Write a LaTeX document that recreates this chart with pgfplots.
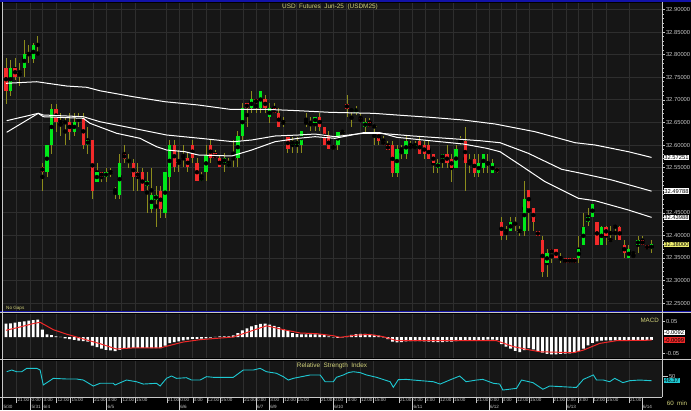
\documentclass[border=0pt]{standalone}
\usepackage{pgfplots}
\pgfplotsset{compat=1.18}
\usepackage{pgfplotstable}
\usepackage{fontspec}
\setmainfont{Liberation Sans}
\definecolor{bgc}{HTML}{161616}
\definecolor{gridc}{HTML}{2E2E2E}
\definecolor{upc}{HTML}{00E81A}
\definecolor{dnc}{HTML}{F22A2A}
\definecolor{wickc}{HTML}{8C8C1C}
\definecolor{txtc}{HTML}{D2D27A}
\definecolor{lblc}{HTML}{C8C8C8}
\definecolor{rsic}{HTML}{1EC8D2}
\definecolor{sigc}{HTML}{F02828}
\definecolor{topblue}{HTML}{1212A8}
\definecolor{lastc}{HTML}{F0F070}

\pgfplotstableread{
i o h l c
0 32.7710 32.7925 32.6907 32.7201
1 32.7201 32.7881 32.7091 32.7710
2 32.7710 32.7918 32.7438 32.7511
3 32.7608 32.7814 32.7305 32.7608
4 32.7710 32.8323 32.7511 32.8013
5 32.8013 32.8212 32.7814 32.8013
6 32.7909 32.8263 32.7814 32.8212
7 32.8024 32.8418 32.8010 32.8024
8 32.5513 32.5602 32.4989 32.5403
9 32.5396 32.6000 32.5299 32.6000
10 32.6000 32.6907 32.5801 32.6803
11 32.6803 32.6907 32.6294 32.6502
12 32.6509 32.6708 32.6199 32.6509
13 32.6502 32.6597 32.6000 32.6502
14 32.6509 32.6708 32.6111 32.6294
15 32.6294 32.6708 32.6199 32.6509
16 32.6597 32.6708 32.6405 32.6597
17 32.6604 32.6708 32.5912 32.6000
18 32.6000 32.6405 32.5801 32.6111
19 32.6111 32.6111 32.4805 32.4989
20 32.5188 32.5602 32.5188 32.5396
21 32.5396 32.5396 32.5188 32.5292
22 32.5292 32.5498 32.5188 32.5396
23 32.5396 32.5498 32.5292 32.5396
24 32.4998 32.5077 32.4805 32.4998
25 32.4894 32.5801 32.4805 32.5595
26 32.5801 32.6000 32.5602 32.5697
27 32.5595 32.5801 32.5498 32.5697
28 32.5595 32.5697 32.4989 32.5292
29 32.5396 32.5602 32.4989 32.5292
30 32.5396 32.5498 32.4989 32.4989
31 32.5093 32.5403 32.4496 32.5197
32 32.4591 32.5498 32.4496 32.4894
33 32.4783 32.5093 32.4192 32.4894
34 32.4989 32.5093 32.4392 32.4591
35 32.4496 32.5396 32.4392 32.5396
36 32.5299 32.6111 32.4989 32.6000
37 32.6000 32.6111 32.5396 32.5507
38 32.5608 32.5889 32.5396 32.5608
39 32.5706 32.6000 32.5520 32.5706
40 32.5706 32.5816 32.5409 32.5507
41 32.6000 32.6111 32.5595 32.5706
42 32.5595 32.5706 32.5204 32.5204
43 32.5204 32.5409 32.5204 32.5299
44 32.5409 32.6000 32.5204 32.5779
45 32.6000 32.6111 32.5608 32.5706
46 32.5816 32.5889 32.5706 32.5706
47 32.5706 32.5779 32.5507 32.5507
48 32.5608 32.5816 32.5409 32.5706
49 32.5507 32.5706 32.5507 32.5608
50 32.5706 32.6111 32.5507 32.5706
51 32.5706 32.6316 32.5507 32.6199
52 32.6199 32.6923 32.6111 32.6812
53 32.6923 32.6923 32.6405 32.6812
54 32.6812 32.7201 32.6715 32.7011
55 32.7011 32.7011 32.6715 32.6923
56 32.6812 32.7201 32.6715 32.7201
57 32.7011 32.7106 32.6715 32.6812
58 32.6613 32.6923 32.6493 32.6812
59 32.6812 32.6923 32.6715 32.6715
60 32.6715 32.6812 32.6405 32.6405
61 32.6493 32.6613 32.6405 32.6493
62 32.6184 32.6184 32.5816 32.5905
63 32.6000 32.6184 32.5816 32.6095
64 32.6000 32.6184 32.5816 32.6095
65 32.6000 32.6310 32.5816 32.6310
66 32.6493 32.6715 32.6405 32.6493
67 32.6493 32.6613 32.6310 32.6493
68 32.6493 32.6613 32.6310 32.6613
69 32.6613 32.6715 32.6310 32.6405
70 32.6405 32.6405 32.6000 32.6000
71 32.6199 32.6310 32.5905 32.5905
72 32.6000 32.6000 32.5889 32.5905
73 32.6000 32.6294 32.5889 32.6294
74 32.6294 32.6332 32.6229 32.6294
75 32.6907 32.7106 32.6626 32.6803
76 32.6803 32.6803 32.6405 32.6737
77 32.6715 32.6863 32.6664 32.6803
78 32.6604 32.6701 32.6502 32.6502
79 32.6398 32.6604 32.6294 32.6502
80 32.6502 32.6604 32.6398 32.6398
81 32.6410 32.6410 32.6000 32.6410
82 32.6294 32.6294 32.6000 32.6095
83 32.6095 32.6199 32.6000 32.6000
84 32.6000 32.6095 32.5889 32.5889
85 32.6000 32.6095 32.5285 32.5387
86 32.5387 32.6000 32.5285 32.5905
87 32.5905 32.6000 32.5690 32.5905
88 32.5801 32.6199 32.5690 32.6095
89 32.6000 32.6095 32.5905 32.5905
90 32.5905 32.6095 32.5905 32.6000
91 32.6095 32.6199 32.5801 32.5801
92 32.6000 32.6095 32.5690 32.5801
93 32.6000 32.6095 32.5690 32.5690
94 32.5801 32.5801 32.5387 32.5595
95 32.5498 32.5690 32.5387 32.5595
96 32.5690 32.5801 32.5498 32.5801
97 32.5801 32.6000 32.5498 32.5595
98 32.5690 32.5801 32.5188 32.5498
99 32.5498 32.6000 32.5498 32.5905
100 32.6038 32.6199 32.6000 32.6095
101 32.6095 32.6398 32.4989 32.5595
102 32.5595 32.5801 32.5387 32.5690
103 32.5690 32.5801 32.5285 32.5387
104 32.5387 32.5801 32.5285 32.5595
105 32.5498 32.5801 32.5387 32.5801
106 32.5595 32.5801 32.5387 32.5595
107 32.5387 32.5690 32.5387 32.5595
108 32.5498 32.5498 32.5387 32.5396
109 32.4303 32.4414 32.3898 32.3987
110 32.4097 32.4208 32.3898 32.4097
111 32.4097 32.4414 32.4097 32.4303
112 32.4303 32.4414 32.4097 32.4208
113 32.4097 32.4208 32.3987 32.4097
114 32.4097 32.5204 32.3987 32.4799
115 32.5004 32.5004 32.4097 32.4600
116 32.4600 32.4600 32.4097 32.4303
117 32.4097 32.4097 32.3987 32.3987
118 32.3898 32.3987 32.3086 32.3197
119 32.3383 32.3692 32.3086 32.3604
120 32.3692 32.3692 32.3383 32.3604
121 32.3692 32.3692 32.3493 32.3493
122 32.3493 32.3604 32.3383 32.3493
123 32.3493 32.3493 32.3383 32.3383
124 32.3493 32.3493 32.3383 32.3383
125 32.3493 32.3493 32.3383 32.3383
126 32.3493 32.3987 32.3383 32.3692
127 32.3788 32.4502 32.3788 32.4192
128 32.4303 32.4600 32.4208 32.4400
129 32.4400 32.4695 32.4400 32.4695
130 32.4303 32.4303 32.3788 32.3788
131 32.3788 32.4208 32.3788 32.4192
132 32.4192 32.4208 32.3788 32.3987
133 32.3898 32.4208 32.3898 32.3898
134 32.4192 32.4208 32.3898 32.4192
135 32.4192 32.4208 32.3898 32.3898
136 32.3788 32.3898 32.3493 32.3604
137 32.3493 32.3788 32.3493 32.3692
138 32.3604 32.3604 32.3493 32.3604
139 32.3788 32.3987 32.3604 32.3898
140 32.3898 32.3987 32.3788 32.3788
141 32.3788 32.3788 32.3692 32.3692
142 32.3692 32.3898 32.3604 32.3800
}\candles

\pgfplotstableread{
i m
0 0.0417
1 0.0427
2 0.0448
3 0.0469
4 0.0490
5 0.0510
6 0.0530
7 0.0540
8 0.0230
9 0.0080
10 0.0060
11 0.0020
12 0.0005
13 -0.0040
14 -0.0070
15 -0.0090
16 -0.0110
17 -0.0125
18 -0.0146
19 -0.0270
20 -0.0320
21 -0.0360
22 -0.0400
23 -0.0420
24 -0.0440
25 -0.0400
26 -0.0360
27 -0.0340
28 -0.0340
29 -0.0340
30 -0.0340
31 -0.0340
32 -0.0350
33 -0.0350
34 -0.0350
35 -0.0270
36 -0.0190
37 -0.0160
38 -0.0135
39 -0.0104
40 -0.0083
41 -0.0060
42 -0.0060
43 -0.0050
44 -0.0040
45 -0.0020
46 0.0005
47 0.0020
48 0.0020
49 0.0020
50 0.0050
51 0.0125
52 0.0210
53 0.0270
54 0.0330
55 0.0375
56 0.0410
57 0.0417
58 0.0385
59 0.0350
60 0.0310
61 0.0250
62 0.0190
63 0.0125
64 0.0090
65 0.0080
66 0.0080
67 0.0080
68 0.0080
69 0.0080
70 0.0060
71 0.0020
72 -0.0010
73 -0.0030
74 -0.0010
75 0.0030
76 0.0070
77 0.0090
78 0.0100
79 0.0100
80 0.0090
81 0.0070
82 0.0040
83 -0.0010
84 -0.0070
85 -0.0146
86 -0.0167
87 -0.0156
88 -0.0135
89 -0.0125
90 -0.0125
91 -0.0125
92 -0.0135
93 -0.0146
94 -0.0156
95 -0.0156
96 -0.0156
97 -0.0146
98 -0.0146
99 -0.0125
100 -0.0104
101 -0.0104
102 -0.0094
103 -0.0094
104 -0.0094
105 -0.0094
106 -0.0083
107 -0.0083
108 -0.0094
109 -0.0220
110 -0.0300
111 -0.0365
112 -0.0430
113 -0.0470
114 -0.0410
115 -0.0350
116 -0.0385
117 -0.0440
118 -0.0490
119 -0.0530
120 -0.0540
121 -0.0540
122 -0.0530
123 -0.0520
124 -0.0510
125 -0.0490
126 -0.0440
127 -0.0365
128 -0.0260
129 -0.0180
130 -0.0135
131 -0.0115
132 -0.0104
133 -0.0104
134 -0.0104
135 -0.0104
136 -0.0104
137 -0.0104
138 -0.0104
139 -0.0104
140 -0.0094
141 -0.0094
142 -0.0092
}\macd

\pgfplotstableread{
i s
0 0.021
3 0.031
6 0.042
7.5 0.046
10.4 0.023
13.3 0.009
17 -0.006
20.7 -0.021
24.3 -0.0375
28 -0.034
33.9 -0.034
35.3 -0.029
39 -0.0156
42.7 -0.0083
50 0.000
53.7 0.0177
57.3 0.035
61 0.023
64.7 0.0125
68.3 0.0104
72 0.004
73.5 -0.001
77.1 0.006
80 0.008
83 0.001
86 -0.0115
91.8 -0.0115
107.9 -0.0115
111.6 -0.030
114.5 -0.0385
117.4 -0.046
124.8 -0.049
127 -0.041
130.6 -0.020
134.3 -0.0115
142 -0.0099
}\signal

\pgfplotstableread{
i r
0.15 53.3
1.25 54.6
2.35 53.3
3.45 53.3
4.55 55.9
6.75 55.9
7.5 54.6
8.2 43.1
9.3 45.6
10.4 48.2
13.3 47.7
15.5 47.7
17 46.9
19.2 42.3
20.7 44.4
23.6 44.4
24 43.1
26.5 46.9
28.7 45.6
30.2 43.8
33.1 44.4
33.9 42.3
35.3 48.2
36.4 50.0
37.5 48.2
39.7 48.7
40.8 46.9
42.7 46.9
44.1 49.5
45.6 49.0
50 49.0
52.2 54.6
54.4 54.6
55.9 55.9
57.3 53.3
59.5 52.1
61 49.5
62.1 46.9
63.2 48.2
66.9 50.8
69.1 50.8
70.2 45.6
72 45.6
72.7 49.0
74.2 50.8
75.3 52.6
76.4 53.3
77.9 52.6
79.3 50.8
81.5 49.0
84.5 45.6
85.2 41.3
86.3 47.2
88.1 47.4
89.6 46.9
94 45.6
95.5 43.8
97.6 46.9
99.8 50.0
101.2 45.6
103.5 46.9
104.9 47.4
107.2 44.4
108.6 43.8
109.3 39.2
112.3 40.5
113.4 46.9
115.9 44.9
118.1 39.8
119.6 42.3
124.8 41.3
125.5 41.3
127 47.4
129.2 50.8
129.9 46.9
131.4 46.9
132.8 45.6
133.9 48.2
135.7 44.9
137.2 46.4
139.4 46.9
142 46.37
}\rsi

\pgfplotsset{
  panel/.style={
    scale only axis, width=660pt, xmin=-0.88, xmax=144.30, anchor=south west,
    axis background/.style={fill=bgc}, axis line style={draw=none},
    xtick={2.35,5.43,8.07,11.15,14.23,19.2,22.15,25.45,28.38,35.35,38.12,41.07,44.15,47.07,52.2,55.0,57.92,61.0,63.95,69.07,72.0,74.94,77.87,80.84,86.45,89.46,92.17,95.25,98.33,103.39,106.25,109.04,112.19,115.05,120.26,123.19,125.83,129.06,131.98,137.04},
    xmajorgrids, major grid style={draw=gridc, line width=0.7pt},
    xtick style={draw=none}, xticklabels={},
    clip mode=individual,
    scaled y ticks=false, scaled x ticks=false,
    ytick pos=right, yticklabel pos=right, tick align=outside,
    ytick style={draw=lblc, line width=0.5pt}, major tick length=3pt,
    minor tick length=1.5pt,
    yticklabel style={font=\fontsize{5.8}{6}\selectfont, text=lblc, inner sep=0.8pt},
    /pgf/number format/assume math mode=true,
  },
}

\begin{document}
\begin{tikzpicture}[x=1pt,y=1pt]
\fill[black] (0,0) rectangle (691,410);

% ---------------- price panel
\begin{axis}[panel, at={(2pt,99pt)}, height=308pt,
  ymin=32.2327, ymax=32.9142,
  ytick={32.25,32.30,32.35,32.40,32.45,32.50,32.55,32.60,32.65,32.70,32.75,32.80,32.85,32.90},
  yticklabels={32.25000,32.30000,32.35000,32.40000,32.45000,,32.55000,32.60000,32.65000,32.70000,32.75000,32.80000,32.85000,32.90000},
  minor y tick num=4,
  ymajorgrids,
]
% wicks
\addplot[forget plot, only marks, mark=none, error bars/.cd, y dir=both, y explicit, error mark=none,
  error bar style={line width=0.8pt, draw=wickc}]
  table[x=i, y expr={(\thisrow{h}+\thisrow{l})/2}, y error expr={(\thisrow{h}-\thisrow{l})/2}] {\candles};
% up bodies
\addplot[forget plot, only marks, mark=none, unbounded coords=discard, error bars/.cd, y dir=both, y explicit, error mark=none,
  error bar style={line width=3.3pt, draw=upc}]
  table[x expr={\thisrow{c}>\thisrow{o} ? \thisrow{i} : nan}, y expr={(\thisrow{o}+\thisrow{c})/2}, y error expr={abs(\thisrow{c}-\thisrow{o})/2}] {\candles};
% down bodies
\addplot[forget plot, only marks, mark=none, unbounded coords=discard, error bars/.cd, y dir=both, y explicit, error mark=none,
  error bar style={line width=3.3pt, draw=dnc}]
  table[x expr={\thisrow{c}<\thisrow{o} ? \thisrow{i} : nan}, y expr={(\thisrow{o}+\thisrow{c})/2}, y error expr={abs(\thisrow{c}-\thisrow{o})/2}] {\candles};
% doji
\addplot[forget plot, only marks, mark=none, unbounded coords=discard, error bars/.cd, x dir=both, x fixed=0.5, error mark=none,
  error bar style={line width=0.8pt, draw=wickc}]
  table[x expr={\thisrow{c}==\thisrow{o} ? \thisrow{i} : nan}, y=o] {\candles};
% moving averages
\addplot[white, line width=1pt] coordinates {(0,32.7365) (6.75,32.7400) (13.35,32.7305) (17.75,32.7277) (20.68,32.7200) (27.94,32.7069) (34.98,32.6958) (42.3,32.6885) (49.27,32.6790) (56.97,32.6790) (64.3,32.6759) (71.27,32.6723) (80.8,32.6701) (85.94,32.6664) (93.27,32.6613) (100.6,32.6553) (107.57,32.6465) (116.37,32.6294) (125.17,32.6051) (129.57,32.6000) (136.9,32.5852) (142,32.5725)};
\addplot[white, line width=1pt] coordinates {(0.15,32.6538) (7.1,32.6701) (8.2,32.6664) (17.0,32.6626) (20.68,32.6515) (28.0,32.6369) (35.35,32.6221) (42.68,32.6148) (50.0,32.6073) (54.05,32.6111) (59.17,32.6199) (64.3,32.6221) (67.97,32.6243) (72.37,32.6184) (78.6,32.6259) (82.27,32.6259) (89.6,32.6199) (96.94,32.6148) (104.27,32.6095) (108.67,32.6051) (114.9,32.5816) (122.24,32.5462) (125.89,32.5387) (133.24,32.5226) (142,32.4979)};
\addplot[white, line width=1pt] coordinates {(0.15,32.6281) (7.1,32.6701) (8.2,32.6626) (17.0,32.6591) (18.48,32.6480) (24.35,32.6259) (29.48,32.6148) (33.15,32.5962) (35.35,32.5889) (39.37,32.5852) (42.3,32.5779) (49.65,32.5757) (54.05,32.5889) (59.17,32.6073) (64.3,32.6148) (67.97,32.6184) (72.37,32.6148) (78.6,32.6272) (82.27,32.6272) (85.94,32.6170) (93.27,32.6095) (100.6,32.6022) (105.74,32.5927) (108.67,32.5852) (113.44,32.5535) (118.57,32.5188) (125.89,32.4821) (129.57,32.4768) (136.9,32.4562) (142,32.4399)};
\node[anchor=west, fill=white, text=black, inner sep=0.7pt, xshift=1.5pt, font=\fontsize{5.8}{6}\selectfont] at (axis cs:144.3,32.57251) {32.57251};
\node[anchor=west, fill=white, text=black, inner sep=0.7pt, xshift=1.5pt, font=\fontsize{5.8}{6}\selectfont] at (axis cs:144.3,32.49788) {32.49788};
\node[anchor=west, fill=white, text=black, inner sep=0.7pt, xshift=1.5pt, font=\fontsize{5.8}{6}\selectfont] at (axis cs:144.3,32.43988) {32.43988};
\node[anchor=west, fill=lastc, text=black, inner sep=0.7pt, xshift=1.5pt, font=\fontsize{5.8}{6}\selectfont] at (axis cs:144.3,32.38) {32.38000};
\end{axis}

% ---------------- MACD panel
\begin{axis}[panel, at={(2pt,52pt)}, height=44pt,
  ymin=-0.0656, ymax=0.0719,
  ytick={-0.05,0.05}, yticklabels={-0.05,0.05},
]
\addplot[ybar, bar width=2.8pt, bar shift=0pt, fill=white, draw=none] table[x=i, y=m] {\macd};
\addplot[sigc, line width=1pt] table[x=i, y=s] {\signal};
\node[anchor=west, fill=white, text=black, inner sep=0.7pt, xshift=1.5pt, font=\fontsize{5.8}{6}\selectfont] at (axis cs:144.3,0.0134) {-0.0092};
\node[anchor=west, fill=sigc, text=black, inner sep=0.7pt, xshift=1.5pt, font=\fontsize{5.8}{6}\selectfont] at (axis cs:144.3,-0.0100) {-0.0099};
\end{axis}

% ---------------- RSI panel
\begin{axis}[panel, at={(2pt,13pt)}, height=36pt,
  ymin=33.85, ymax=61.54,
  ytick={50}, yticklabels={50},
  xtick style={draw=lblc, line width=0.4pt}, xtick pos=bottom, major tick length=6pt,
  xticklabels={21:00,0:00,3:00,12:00,15:00,21:00,3:00,12:00,15:00,21:00,0:00,3:00,12:00,15:00,21:00,0:00,3:00,12:00,15:00,21:00,0:00,3:00,12:00,15:00,21:00,0:00,3:00,12:00,15:00,21:00,0:00,3:00,12:00,15:00,21:00,0:00,3:00,12:00,15:00,21:00},
  xticklabel style={font=\fontsize{4.6}{5}\selectfont, text=lblc, anchor=north west, inner sep=0pt, xshift=0.8pt, yshift=4.5pt},
  extra x ticks={-0.75,5.43,8.07,22.15,38.12,55.0,57.92,72.0,89.46,106.25,123.19,139.9},
  extra x tick labels={5/30,5/31,6/4,6/5,6/6,6/7,6/9,6/10,6/11,6/12,6/13,6/14},
  extra x tick style={grid=none, major tick length=13pt, xticklabel style={yshift=1pt}},
]
\addplot[rsic, line width=0.9pt] table[x=i, y=r] {\rsi};
\node[anchor=west, fill=rsic, text=black, inner sep=0.7pt, xshift=1.5pt, font=\fontsize{5.8}{6}\selectfont] at (axis cs:144.3,46.37) {46.37};
\end{axis}

% ---------------- frame lines and texts
\fill[topblue] (0,408) rectangle (691,410);
\draw[topblue, line width=1.2pt] (0,98.6) -- (691,98.6);
\draw[lblc, line width=0.8pt] (0,97.4) -- (691,97.4);
\draw[lblc, line width=1.4pt] (0,50.3) -- (691,50.3);
\draw[lblc, line width=0.9pt] (0,13) -- (662,13);
\draw[lblc, line width=0.7pt] (2,13) -- (2,408);
\draw[lblc, line width=0.8pt] (662,13) -- (662,408);

\node[font=\fontsize{6.4}{7}\selectfont, text=txtc] at (330,403.5) {USD\ \ Futures\ \ Jun-25\ \ (USDM25)};
\node[anchor=west, font=\fontsize{4.6}{5}\selectfont, text=txtc, inner sep=0pt] at (6,102) {No Gaps};
\node[anchor=east, font=\fontsize{6.2}{7}\selectfont, text=txtc, inner sep=0pt] at (659,90) {MACD};
\node[font=\fontsize{6.4}{7}\selectfont, text=txtc] at (332,44) {Relative\ \ Strength\ \ Index};
\node[font=\fontsize{6.2}{7}\selectfont, text=txtc] at (677,7) {60\ \ min};
\pgfresetboundingbox
\useasboundingbox (0,0) rectangle (691,410);
\end{tikzpicture}
\end{document}
